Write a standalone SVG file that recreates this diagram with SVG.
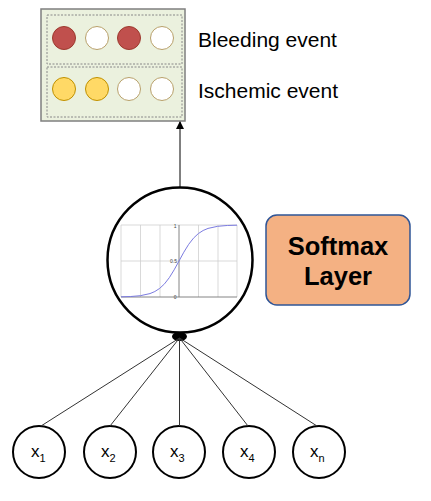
<svg xmlns="http://www.w3.org/2000/svg" width="431" height="501" viewBox="0 0 431 501">
<defs>
<style>
.lbl{font-family:"Liberation Sans",Arial,sans-serif;fill:#000}
.ev{font-size:21px}
.inp{fill:#fff;stroke:#000;stroke-width:2}
.conn{stroke:#333;stroke-width:1;fill:none}
.grid{stroke:#cfcfcf;stroke-width:0.8}
.tick{font-family:"Liberation Sans",Arial,sans-serif;font-size:5px;fill:#444}
.red{fill:#C0504D;stroke:#9C3A2E;stroke-width:1}
.yel{fill:#FFD966;stroke:#BF9000;stroke-width:1}
.wht{fill:#fff;stroke:#B8A06A;stroke-width:1}
.dash{fill:none;stroke:#888;stroke-width:1;stroke-dasharray:2,1.5}
.xs{font-size:17px}
.sub{font-size:11px}
</style>
<marker id="arr" markerWidth="8" markerHeight="8" refX="7" refY="4" orient="auto" markerUnits="userSpaceOnUse">
<path d="M0,0 L8,4 L0,8 z" fill="#000"/>
</marker>
</defs>
<rect width="431" height="501" fill="#fff"/>

<g id="output">
<rect x="41" y="9" width="144" height="112" fill="#EBF1DE" stroke="#7F7F7F" stroke-width="1.5"/>
<rect x="47" y="15" width="135" height="49" class="dash"/>
<rect x="47" y="67" width="135" height="50" class="dash"/>
<circle cx="64" cy="38" r="11.5" class="red"/>
<circle cx="97" cy="38" r="11.5" class="wht"/>
<circle cx="129" cy="38" r="11.5" class="red"/>
<circle cx="162" cy="38" r="11.5" class="wht"/>
<circle cx="64" cy="89" r="11.5" class="yel"/>
<circle cx="97" cy="89" r="11.5" class="yel"/>
<circle cx="129" cy="89" r="11.5" class="wht"/>
<circle cx="162" cy="89" r="11.5" class="wht"/>
<text x="198" y="47" class="lbl ev">Bleeding event</text>
<text x="198" y="98" class="lbl ev">Ischemic event</text>
</g>

<g id="softmax-node">
<circle cx="180" cy="260" r="72.5" fill="#fff" stroke="#000" stroke-width="2.5"/>
<g>
<line x1="121" y1="225" x2="121" y2="297" class="grid"/>
<line x1="140.5" y1="225" x2="140.5" y2="297" class="grid"/>
<line x1="160" y1="225" x2="160" y2="297" class="grid"/>
<line x1="198.5" y1="225" x2="198.5" y2="297" class="grid"/>
<line x1="218" y1="225" x2="218" y2="297" class="grid"/>
<line x1="237" y1="225" x2="237" y2="297" class="grid"/>
<line x1="121" y1="225" x2="237" y2="225" class="grid"/>
<line x1="121" y1="261" x2="237" y2="261" class="grid"/>
<line x1="179" y1="225" x2="179" y2="297" stroke="#777" stroke-width="0.9"/>
<line x1="121" y1="297" x2="237" y2="297" stroke="#777" stroke-width="0.9"/>
<text x="176.5" y="227.5" class="tick" text-anchor="end">1</text>
<text x="177" y="263" class="tick" text-anchor="end">0.5</text>
<text x="176.5" y="299" class="tick" text-anchor="end">0</text>
<polyline fill="none" stroke="#7B7BE0" stroke-width="1" points="121,296.82 130.67,296.52 140.33,295.7 150,293.59 154.83,291.53 159.67,288.42 164.5,283.87 169.33,277.64 174.17,269.82 179,261 183.83,252.18 188.67,244.36 193.5,238.13 198.33,233.58 203.17,230.47 208,228.41 217.67,226.3 227.33,225.48 237,225.18"/>
</g>
<ellipse cx="179.5" cy="336.5" rx="7.5" ry="4.5" fill="#000"/>
</g>

<g id="softmax-label">
<rect x="266" y="215" width="144" height="90" rx="11" ry="11" fill="#F4B183" stroke="#2F5597" stroke-width="1.5"/>
<text x="338" y="255" text-anchor="middle" class="lbl" font-size="25.5" font-weight="bold">Softmax</text>
<text x="338" y="285" text-anchor="middle" class="lbl" font-size="25.5" font-weight="bold">Layer</text>
</g>

<g id="x1"><circle cx="39" cy="452" r="26" class="inp"/><text x="31" y="457" class="lbl xs">x<tspan class="sub" dy="5">1</tspan></text></g>
<g id="x2"><circle cx="110" cy="452" r="26" class="inp"/><text x="101" y="457" class="lbl xs">x<tspan class="sub" dy="5">2</tspan></text></g>
<g id="x3"><circle cx="179" cy="452" r="26" class="inp"/><text x="170" y="457" class="lbl xs">x<tspan class="sub" dy="5">3</tspan></text></g>
<g id="x4"><circle cx="249" cy="452" r="26" class="inp"/><text x="240" y="457" class="lbl xs">x<tspan class="sub" dy="5">4</tspan></text></g>
<g id="xn"><circle cx="319" cy="452" r="26" class="inp"/><text x="310" y="457" class="lbl xs">x<tspan class="sub" dy="5">n</tspan></text></g>

<g id="connectors">
<line x1="180" y1="187" x2="180" y2="122" stroke="#000" stroke-width="1" marker-end="url(#arr)"/>
<line x1="179.5" y1="338" x2="41" y2="426" class="conn"/>
<line x1="179.5" y1="338" x2="110" y2="426" class="conn"/>
<line x1="179.5" y1="338" x2="179.5" y2="426" class="conn"/>
<line x1="179.5" y1="338" x2="248" y2="426" class="conn"/>
<line x1="179.5" y1="338" x2="317" y2="426" class="conn"/>
</g>
</svg>
